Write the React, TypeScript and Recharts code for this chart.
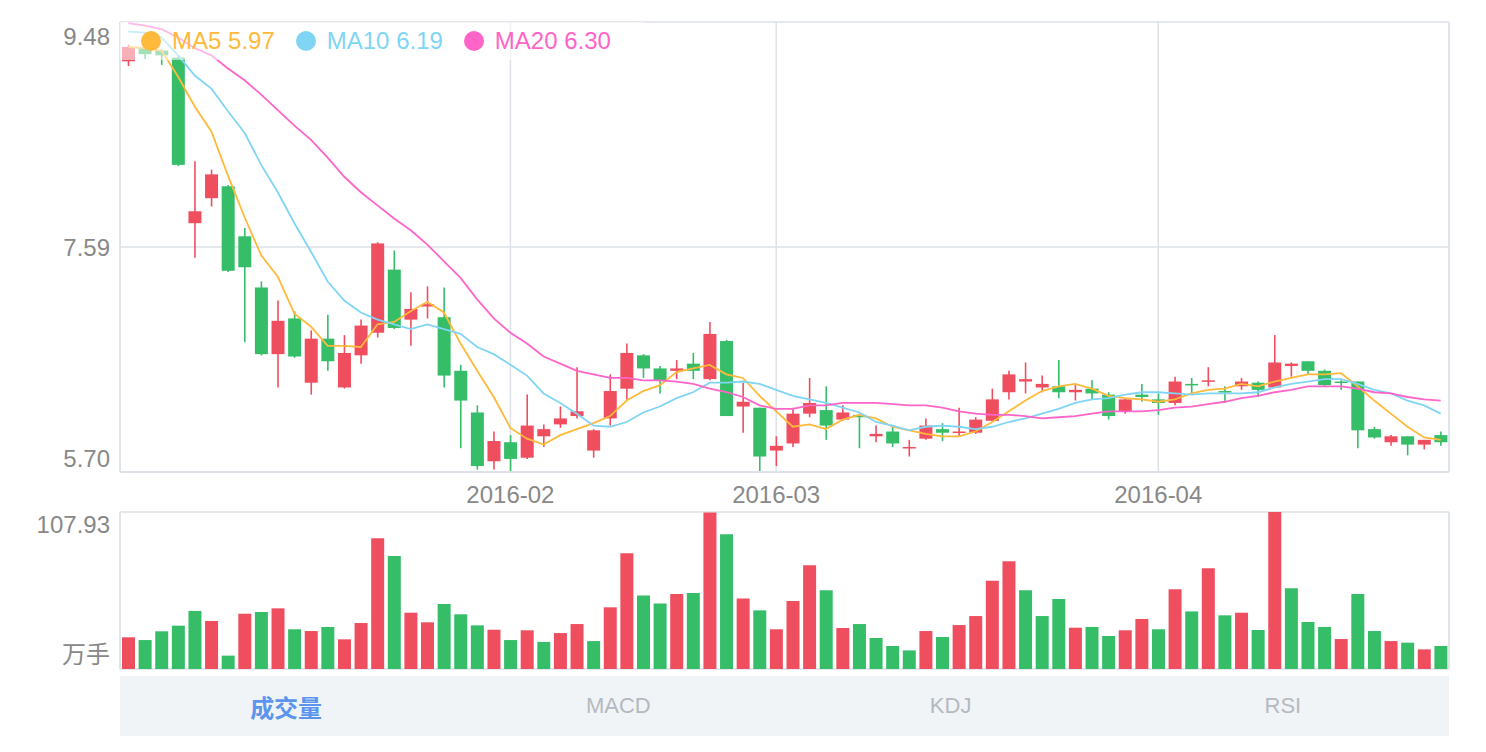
import React from 'react';
import { ComposedChart, BarChart, Bar, Line, XAxis, YAxis, CartesianGrid, Cell } from 'recharts';

const dates = [
  '2015-12-29', '2015-12-30', '2015-12-31',
  '2016-01-04', '2016-01-05', '2016-01-06', '2016-01-07', '2016-01-08',
  '2016-01-11', '2016-01-12', '2016-01-13', '2016-01-14', '2016-01-15',
  '2016-01-18', '2016-01-19', '2016-01-20', '2016-01-21', '2016-01-22',
  '2016-01-25', '2016-01-26', '2016-01-27', '2016-01-28', '2016-01-29',
  '2016-02-01', '2016-02-02', '2016-02-03', '2016-02-04', '2016-02-05',
  '2016-02-15', '2016-02-16', '2016-02-17', '2016-02-18', '2016-02-19',
  '2016-02-22', '2016-02-23', '2016-02-24', '2016-02-25', '2016-02-26',
  '2016-02-29',
  '2016-03-01', '2016-03-02', '2016-03-03', '2016-03-04',
  '2016-03-07', '2016-03-08', '2016-03-09', '2016-03-10', '2016-03-11',
  '2016-03-14', '2016-03-15', '2016-03-16', '2016-03-17', '2016-03-18',
  '2016-03-21', '2016-03-22', '2016-03-23', '2016-03-24', '2016-03-25',
  '2016-03-28', '2016-03-29', '2016-03-30', '2016-03-31',
  '2016-04-01', '2016-04-05', '2016-04-06', '2016-04-07', '2016-04-08',
  '2016-04-11', '2016-04-12', '2016-04-13', '2016-04-14', '2016-04-15',
  '2016-04-18', '2016-04-19', '2016-04-20', '2016-04-21', '2016-04-22',
  '2016-04-25', '2016-04-26', '2016-04-27',
];

const opens = [
  9.15, 9.27, 9.24, 9.18, 7.79, 8.0, 8.1, 7.68, 7.25, 6.69,
  6.99, 6.45, 6.82, 6.41, 6.68, 6.87, 7.4, 6.98, 7.09, 7.0,
  6.55, 6.2, 5.79, 5.95, 5.82, 6.0, 6.1, 6.17, 5.88, 6.15,
  6.4, 6.68, 6.57, 6.55, 6.61, 6.48, 6.8, 6.25, 6.24, 5.88,
  5.94, 6.19, 6.22, 6.14, 6.18, 6.0, 6.04, 5.9, 5.98, 6.06,
  6.03, 6.03, 6.13, 6.37, 6.46, 6.41, 6.42, 6.37, 6.4, 6.35,
  6.21, 6.35, 6.31, 6.28, 6.44, 6.46, 6.38, 6.42, 6.45, 6.41,
  6.59, 6.63, 6.55, 6.46, 6.46, 6.06, 5.95, 6.0, 5.93, 6.01,
];

const closes = [
  9.27, 9.21, 9.2, 8.28, 7.89, 8.2, 7.39, 7.42, 6.69, 6.97,
  6.67, 6.82, 6.63, 6.7, 6.93, 7.62, 6.91, 7.07, 7.11, 6.51,
  6.3, 5.75, 5.96, 5.81, 6.09, 6.06, 6.15, 6.21, 6.05, 6.38,
  6.7, 6.57, 6.47, 6.57, 6.55, 6.86, 6.17, 6.29, 5.83, 5.92,
  6.19, 6.28, 6.09, 6.2, 6.16, 6.02, 5.94, 5.91, 6.09, 6.03,
  6.04, 6.14, 6.31, 6.52, 6.48, 6.44, 6.37, 6.39, 6.36, 6.17,
  6.31, 6.33, 6.28, 6.46, 6.43, 6.47, 6.37, 6.46, 6.39, 6.62,
  6.61, 6.55, 6.43, 6.45, 6.05, 5.99, 6.0, 5.93, 5.97, 5.95,
];

const highs = [
  9.29, 9.29, 9.25, 9.19, 8.31, 8.24, 8.11, 7.75, 7.3, 7.14,
  7.05, 6.89, 7.02, 6.85, 6.98, 7.63, 7.56, 7.21, 7.26, 7.25,
  6.6, 6.26, 6.04, 6.01, 6.35, 6.1, 6.25, 6.58, 6.06, 6.52,
  6.78, 6.69, 6.59, 6.64, 6.7, 6.96, 6.81, 6.45, 6.24, 6.0,
  6.24, 6.49, 6.42, 6.26, 6.19, 6.09, 6.08, 5.97, 6.15, 6.11,
  6.24, 6.16, 6.4, 6.55, 6.62, 6.51, 6.64, 6.43, 6.47, 6.37,
  6.32, 6.44, 6.36, 6.5, 6.49, 6.58, 6.42, 6.49, 6.46, 6.85,
  6.62, 6.63, 6.56, 6.47, 6.46, 6.08, 6.01, 6.0, 5.97, 6.04,
];

const lows = [
  9.11, 9.17, 9.12, 8.27, 7.5, 7.93, 7.38, 6.79, 6.68, 6.41,
  6.66, 6.35, 6.55, 6.4, 6.61, 6.83, 6.9, 6.76, 6.99, 6.41,
  5.9, 5.72, 5.72, 5.7, 5.81, 5.91, 6.07, 6.15, 5.82, 6.09,
  6.31, 6.49, 6.36, 6.48, 6.48, 6.47, 6.17, 6.03, 5.7, 5.75,
  5.91, 6.16, 5.97, 6.13, 5.9, 5.95, 5.91, 5.83, 5.97, 5.96,
  6.0, 6.02, 6.12, 6.31, 6.36, 6.37, 6.32, 6.3, 6.31, 6.14,
  6.19, 6.29, 6.18, 6.26, 6.36, 6.42, 6.28, 6.39, 6.33, 6.41,
  6.5, 6.52, 6.42, 6.39, 5.9, 5.98, 5.92, 5.84, 5.89, 5.92,
];

const ma5 = [
  9.27, 9.26, 9.24, 9.02, 8.77, 8.56, 8.19, 7.84, 7.52, 7.34,
  7.03, 6.92, 6.76, 6.76, 6.75, 6.94, 6.96, 7.05, 7.13, 7.04,
  6.78, 6.55, 6.33, 6.07, 5.98, 5.93, 6.01, 6.06, 6.11, 6.17,
  6.3, 6.38, 6.43, 6.54, 6.57, 6.6, 6.52, 6.49, 6.34, 6.21,
  6.08, 6.1, 6.06, 6.14, 6.18, 6.15, 6.08, 6.05, 6.02, 6.0,
  6.0, 6.04, 6.12, 6.21, 6.3, 6.38, 6.42, 6.44, 6.4, 6.34,
  6.32, 6.31, 6.29, 6.31, 6.36, 6.39, 6.4, 6.44, 6.42, 6.46,
  6.49, 6.52, 6.52, 6.53, 6.42, 6.3, 6.19, 6.08, 5.99, 5.97,
];

const ma10 = [
  9.4, 9.39, 9.35, 9.2, 9.03, 8.92, 8.73, 8.55, 8.28, 8.05,
  7.79, 7.55, 7.3, 7.14, 7.04, 6.98, 6.94, 6.9, 6.94, 6.9,
  6.86, 6.75, 6.69, 6.6, 6.51, 6.36, 6.28, 6.19, 6.09, 6.08,
  6.12, 6.2, 6.25, 6.32, 6.37, 6.45, 6.45, 6.46, 6.44, 6.39,
  6.34, 6.31, 6.28, 6.24, 6.2, 6.12, 6.09, 6.05, 6.08, 6.09,
  6.08, 6.06, 6.08, 6.12, 6.15, 6.19, 6.23, 6.28, 6.31, 6.32,
  6.35, 6.37, 6.37, 6.36, 6.35, 6.36, 6.36, 6.36, 6.37, 6.41,
  6.44, 6.46, 6.48, 6.48, 6.44, 6.39, 6.36, 6.3, 6.26, 6.19,
];

const ma20 = [
  9.47, 9.45, 9.42, 9.35, 9.26, 9.2, 9.09, 8.99, 8.87, 8.74,
  8.61, 8.49, 8.34, 8.18, 8.05, 7.94, 7.83, 7.73, 7.61, 7.47,
  7.33, 7.15, 6.99, 6.87, 6.78, 6.67, 6.61, 6.55, 6.52, 6.49,
  6.49, 6.47, 6.47, 6.46, 6.44, 6.4, 6.37, 6.33, 6.26, 6.23,
  6.23, 6.26, 6.26, 6.28, 6.28, 6.28, 6.27, 6.26, 6.26, 6.24,
  6.21, 6.19, 6.18, 6.18, 6.17, 6.15, 6.16, 6.17, 6.19, 6.21,
  6.21, 6.21, 6.22, 6.24, 6.25, 6.27, 6.29, 6.32, 6.34, 6.37,
  6.39, 6.42, 6.42, 6.42, 6.4, 6.37, 6.36, 6.33, 6.31, 6.3,
];

// 万手
const volumes = [
  21.8, 19.9, 25.9, 29.8, 39.9, 33.0, 9.2, 38.0, 39.2, 41.7,
  27.3, 26.1, 28.9, 20.4, 31.6, 89.8, 77.7, 38.7, 32.1, 44.7,
  37.6, 30.0, 27.0, 19.9, 26.6, 18.6, 24.7, 30.9, 19.2, 42.4,
  79.5, 50.6, 45.1, 51.6, 52.2, 107.6, 92.6, 48.4, 40.3, 27.3,
  46.7, 71.3, 54.1, 28.2, 30.9, 21.3, 15.8, 12.8, 26.1, 22.0,
  30.2, 36.4, 60.7, 74.0, 54.1, 36.4, 48.1, 28.4, 28.9, 22.7,
  26.6, 34.4, 27.3, 54.8, 39.6, 69.2, 36.9, 38.7, 26.8, 107.93,
  55.5, 32.3, 28.9, 20.6, 51.6, 26.1, 19.2, 18.1, 13.5, 15.8,
];

const monthTicks = ['2016-02-01', '2016-03-01', '2016-04-01'];
const priceTicks = [5.7, 7.59, 9.48];
const volumeTicks = [0, 107.93];
const volumeUnit = '万手';
const tabs = ['成交量', 'MACD', 'KDJ', 'RSI'];

const RED = '#EF4E5F';
const GREEN = '#35BD68';
const MA5_COLOR = '#FFB93B';
const MA10_COLOR = '#80D5F4';
const MA20_COLOR = '#FF64C8';
const GRID = '#DCE2E8';
const AXIS_TEXT = '#888888';

const rows = dates.map((date, i) => ({
  date,
  open: opens[i],
  close: closes[i],
  high: highs[i],
  low: lows[i],
  range: [lows[i], highs[i]],
  ma5: ma5[i],
  ma10: ma10[i],
  ma20: ma20[i],
  volume: volumes[i],
  // volume colour follows the change against the previous close
  volUp: i === 0 || closes[i] >= closes[i - 1],
}));

const legendItems = [
  { name: 'MA5', color: MA5_COLOR, value: ma5[ma5.length - 1] },
  { name: 'MA10', color: MA10_COLOR, value: ma10[ma10.length - 1] },
  { name: 'MA20', color: MA20_COLOR, value: ma20[ma20.length - 1] },
];

function Candle(props: any) {
  const { x, y, width, height, payload } = props;
  if (x == null || y == null) return null;
  const { open, close, high, low } = payload;
  const color = close >= open ? RED : GREEN;
  const top = Math.min(y, y + height);
  const span = Math.abs(height);
  const ratio = high > low ? span / (high - low) : 0;
  const bodyTop = top + (high - Math.max(open, close)) * ratio;
  const bodyH = Math.max(Math.abs(open - close) * ratio, 1.5);
  const cx = x + width / 2;
  return (
    <g>
      <line x1={cx} x2={cx} y1={top} y2={top + span} stroke={color} strokeWidth={1.6} />
      <rect x={x} y={bodyTop} width={width} height={bodyH} fill={color} />
    </g>
  );
}

function PriceTick(props: any) {
  const { x, y, payload } = props;
  const v = payload.value;
  let dy = 0;
  if (v === priceTicks[priceTicks.length - 1]) dy = 14;
  if (v === priceTicks[0]) dy = -14;
  return (
    <text x={x} y={y + dy} textAnchor="end" dominantBaseline="central" fill={AXIS_TEXT} fontSize={24}>
      {v.toFixed(2)}
    </text>
  );
}

function VolumeTick(props: any) {
  const { x, y, payload } = props;
  const v = Number(payload.value);
  const isZero = v === 0;
  return (
    <text x={x} y={y + (isZero ? -15 : 12)} textAnchor="end" dominantBaseline="central" fill={AXIS_TEXT} fontSize={24}>
      {isZero ? volumeUnit : v.toFixed(2)}
    </text>
  );
}

export default function App() {
  return (
    <div
      style={{
        position: 'relative',
        width: 1470,
        height: 736,
        fontFamily: '"Liberation Sans", Arial, "Noto Sans CJK SC", sans-serif',
      }}
    >
      <div style={{ position: 'absolute', left: 0, top: 0 }}>
        <ComposedChart width={1470} height={504} data={rows} margin={{ top: 14, right: 28, bottom: 0, left: 0 }}>
          <CartesianGrid stroke={GRID} strokeWidth={1.5} />
          <XAxis
            dataKey="date"
            ticks={monthTicks}
            interval={0}
            tickFormatter={(d: string) => d.slice(0, 7)}
            tickLine={false}
            tickSize={0}
            tickMargin={14}
            height={40}
            axisLine={{ stroke: GRID, strokeWidth: 2 }}
            tick={{ fill: AXIS_TEXT, fontSize: 24 }}
          />
          <YAxis
            domain={[priceTicks[0], priceTicks[priceTicks.length - 1]]}
            ticks={priceTicks}
            interval={0}
            width={112}
            tickLine={false}
            tickSize={0}
            tickMargin={10}
            axisLine={{ stroke: GRID, strokeWidth: 1.5 }}
            tick={<PriceTick />}
          />
          <YAxis
            yAxisId="r"
            orientation="right"
            domain={[priceTicks[0], priceTicks[priceTicks.length - 1]]}
            width={1}
            tick={false}
            tickLine={false}
            axisLine={{ stroke: GRID, strokeWidth: 1.5 }}
          />
          <Bar dataKey="range" barSize={13} shape={(p: any) => <Candle {...p} />} isAnimationActive={false} />
          <Line dataKey="ma5" stroke={MA5_COLOR} strokeWidth={1.8} dot={false} isAnimationActive={false} />
          <Line dataKey="ma10" stroke={MA10_COLOR} strokeWidth={1.8} dot={false} isAnimationActive={false} />
          <Line dataKey="ma20" stroke={MA20_COLOR} strokeWidth={1.8} dot={false} isAnimationActive={false} />
        </ComposedChart>
      </div>

      <div
        style={{
          position: 'absolute',
          left: 112,
          top: 14,
          height: 38,
          display: 'flex',
          alignItems: 'center',
          paddingLeft: 21,
          paddingRight: 12,
          background: 'rgba(255,255,255,0.55)',
        }}
      >
        {legendItems.map((item) => (
          <div key={item.name} style={{ display: 'flex', alignItems: 'center', marginRight: 21 }}>
            <span
              style={{
                width: 20,
                height: 20,
                borderRadius: '50%',
                background: item.color,
                marginRight: 11,
                display: 'inline-block',
              }}
            />
            <span style={{ color: item.color, fontSize: 24, lineHeight: '24px' }}>
              {item.name} {item.value.toFixed(2)}
            </span>
          </div>
        ))}
      </div>

      <div style={{ position: 'absolute', left: 0, top: 492 }}>
        <BarChart width={1470} height={171} data={rows} margin={{ top: 12, right: 28, bottom: 2, left: 0 }}>
          <CartesianGrid stroke={GRID} strokeWidth={1.5} />
          <XAxis dataKey="date" ticks={monthTicks} interval={0} height={0} tick={false} tickLine={false} axisLine={false} />
          <YAxis
            domain={[volumeTicks[0], volumeTicks[1]]}
            ticks={volumeTicks}
            interval={0}
            width={112}
            tickLine={false}
            tickSize={0}
            tickMargin={10}
            axisLine={{ stroke: GRID, strokeWidth: 1.5 }}
            tick={<VolumeTick />}
          />
          <YAxis
            yAxisId="r"
            orientation="right"
            domain={[volumeTicks[0], volumeTicks[1]]}
            width={1}
            tick={false}
            tickLine={false}
            axisLine={{ stroke: GRID, strokeWidth: 1.5 }}
          />
          <Bar dataKey="volume" barSize={13} isAnimationActive={false}>
            {rows.map((r) => (
              <Cell key={r.date} fill={r.volUp ? RED : GREEN} />
            ))}
          </Bar>
        </BarChart>
      </div>

      <div
        style={{
          position: 'absolute',
          left: 112,
          top: 668,
          width: 1329,
          height: 60,
          background: '#F1F4F6',
          display: 'flex',
        }}
      >
        {tabs.map((t, i) => (
          <div
            key={t}
            style={{
              flex: 1,
              display: 'flex',
              alignItems: 'center',
              justifyContent: 'center',
              fontSize: i === 0 ? 24 : 22,
              fontWeight: i === 0 ? 'bold' : 'normal',
              color: i === 0 ? '#5B95EE' : '#B4B9C1',
            }}
          >
            {t}
          </div>
        ))}
      </div>
    </div>
  );
}
